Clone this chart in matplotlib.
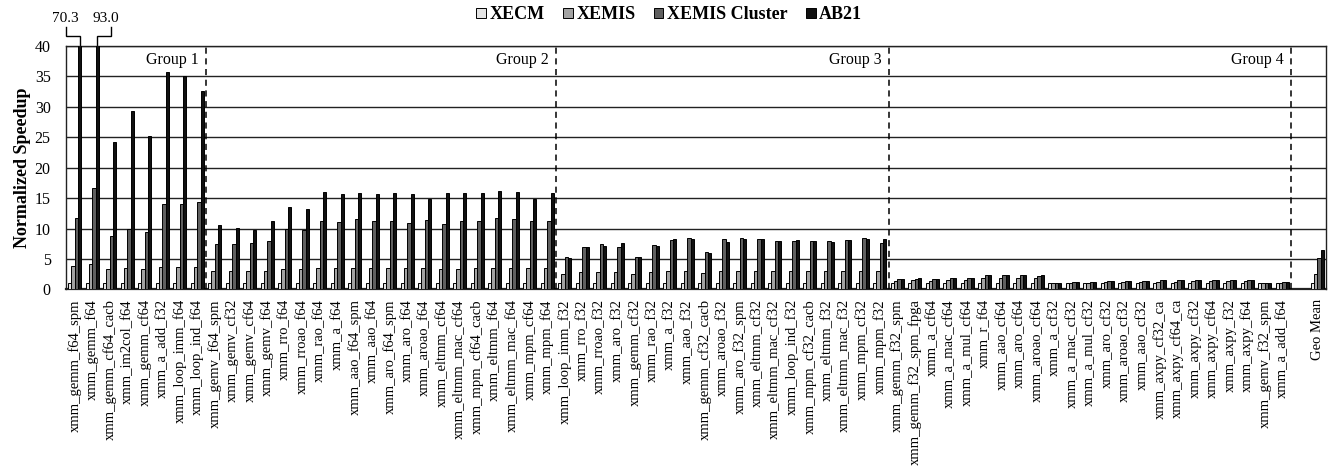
import matplotlib
matplotlib.use("Agg")
import matplotlib.pyplot as plt
import numpy as np

categories = [
    # Group 1
    "xmm_gemm_f64_spm", "xmm_gemm_f64", "xmm_gemm_cf64_cacb", "xmm_im2col_f64",
    "xmm_gemm_cf64", "xmm_a_add_f32", "xmm_loop_imm_f64", "xmm_loop_ind_f64",
    # Group 2
    "xmm_gemv_f64_spm", "xmm_gemv_cf32", "xmm_gemv_cf64", "xmm_gemv_f64", "xmm_rro_f64",
    "xmm_rroao_f64", "xmm_rao_f64", "xmm_a_f64", "xmm_aao_f64_spm", "xmm_aao_f64",
    "xmm_aro_f64_spm", "xmm_aro_f64", "xmm_aroao_f64", "xmm_eltmm_cf64",
    "xmm_eltmm_mac_cf64", "xmm_mpm_cf64_cacb", "xmm_eltmm_f64", "xmm_eltmm_mac_f64",
    "xmm_mpm_cf64", "xmm_mpm_f64",
    # Group 3
    "xmm_loop_imm_f32", "xmm_rro_f32", "xmm_rroao_f32", "xmm_aro_f32", "xmm_gemm_cf32",
    "xmm_rao_f32", "xmm_a_f32", "xmm_aao_f32", "xmm_gemm_cf32_cacb", "xmm_aroao_f32",
    "xmm_aro_f32_spm", "xmm_eltmm_cf32", "xmm_eltmm_mac_cf32", "xmm_loop_ind_f32",
    "xmm_mpm_cf32_cacb", "xmm_eltmm_f32", "xmm_eltmm_mac_f32", "xmm_mpm_cf32", "xmm_mpm_f32",
    # Group 4
    "xmm_gemm_f32_spm", "xmm_gemm_f32_spm_fpga", "xmm_a_cf64", "xmm_a_mac_cf64",
    "xmm_a_mul_cf64", "xmm_r_f64", "xmm_aao_cf64", "xmm_aro_cf64", "xmm_aroao_cf64",
    "xmm_a_cf32", "xmm_a_mac_cf32", "xmm_a_mul_cf32", "xmm_aro_cf32", "xmm_aroao_cf32",
    "xmm_aao_cf32", "xmm_axpy_cf32_ca", "xmm_axpy_cf64_ca", "xmm_axpy_cf32",
    "xmm_axpy_cf64", "xmm_axpy_f32", "xmm_axpy_f64", "xmm_gemv_f32_spm", "xmm_a_add_f64",
    # spacer + summary
    "", "Geo Mean",
]

xecm = [1.0] * 70 + [np.nan, 1.0]

xemis = [
    3.9, 4.1, 3.3, 3.45, 3.3, 3.7, 3.7, 3.7,
    2.95, 2.95, 3.0, 3.1, 3.3, 3.3, 3.45, 3.45, 3.45, 3.45, 3.45, 3.45, 3.45, 3.4,
    3.4, 3.45, 3.45, 3.45, 3.45, 3.45,
    2.5, 2.85, 2.9, 2.9, 2.5, 2.9, 3.0, 3.0, 2.7, 3.0, 3.05, 3.0, 3.0, 3.0, 3.0,
    3.0, 3.0, 3.05, 3.05,
    1.4, 1.5, 1.4, 1.6, 1.6, 1.85, 1.85, 1.85, 1.9, 1.0, 1.1, 1.1, 1.25, 1.25, 1.25,
    1.3, 1.3, 1.35, 1.35, 1.35, 1.35, 1.0, 1.1,
    np.nan, 2.5,
]

xemis_cluster = [
    11.8, 16.7, 8.7, 10.0, 9.5, 14.0, 14.0, 14.4,
    7.5, 7.4, 7.55, 8.0, 10.0, 9.7, 11.3, 11.0, 11.6, 11.2, 11.3, 10.9, 11.4, 10.7,
    11.2, 11.3, 11.8, 11.5, 11.3, 11.3,
    5.25, 7.05, 7.4, 7.05, 5.4, 7.3, 8.15, 8.5, 6.2, 8.3, 8.4, 8.3, 8.0, 7.9, 7.95,
    7.9, 8.05, 8.4, 7.6,
    1.7, 1.8, 1.65, 1.9, 1.9, 2.35, 2.4, 2.35, 2.25, 1.0, 1.15, 1.15, 1.4, 1.35, 1.45,
    1.5, 1.5, 1.5, 1.5, 1.5, 1.5, 1.0, 1.2,
    np.nan, 5.1,
]

ab21 = [
    70.3, 93.0, 24.2, 29.2, 25.2, 35.7, 35.1, 32.6,
    10.6, 10.1, 9.75, 11.2, 13.6, 13.2, 16.0, 15.7, 15.9, 15.6, 15.9, 15.7, 14.9, 15.8,
    15.9, 15.9, 16.1, 16.0, 14.9, 15.9,
    5.1, 6.9, 7.2, 7.7, 5.3, 7.1, 8.2, 8.3, 6.0, 7.8, 8.3, 8.2, 7.95, 8.05, 7.95,
    7.8, 8.15, 8.2, 8.3,
    1.7, 1.85, 1.7, 1.9, 1.9, 2.4, 2.4, 2.3, 2.4, 1.0, 1.15, 1.15, 1.4, 1.35, 1.45,
    1.5, 1.5, 1.5, 1.5, 1.5, 1.5, 1.0, 1.2,
    np.nan, 6.5,
]

series_names = ["XECM", "XEMIS", "XEMIS Cluster", "AB21"]
series_colors = ["#e4e4e4", "#a3a3a3", "#5f5f5f", "#111111"]
group_names = ["Group 1", "Group 2", "Group 3", "Group 4"]
group_sizes = [8, 20, 19, 23]
yticks = [0, 5, 10, 15, 20, 25, 30, 35, 40]

plt.rcParams['font.family'] = ['Liberation Serif', 'DejaVu Serif']

fig = plt.figure(figsize=(13.33, 4.66), dpi=100)
ax = fig.add_axes([0.0495, 0.3788, 0.9453, 0.5232])

x = np.arange(len(categories))
w = 0.19
all_series = [xecm, xemis, xemis_cluster, ab21]
for k, (vals, name, col) in enumerate(zip(all_series, series_names, series_colors)):
    ax.bar(x + (k - 1.5) * w, vals, width=w, color=col, edgecolor="black",
           linewidth=0.7, label=name, zorder=3)

ax.set_xlim(-0.5, len(categories) - 0.5)
ax.set_ylim(0, 40)
ax.set_yticks(yticks)
ax.set_yticklabels([str(t) for t in yticks], fontsize=11.5)
ax.yaxis.grid(True, color="#222222", linewidth=1.0, zorder=0)
ax.set_axisbelow(True)
ax.tick_params(axis="both", length=0)
ax.tick_params(axis="y", pad=11)
ax.tick_params(axis="x", pad=7)
ax.set_xticks(x)
ax.set_xticklabels(categories, rotation=90, fontsize=10.5)
ax.set_ylabel("Normalized Speedup", fontsize=13, fontweight="bold", labelpad=3)
for s in ax.spines.values():
    s.set_color("#222222")
    s.set_linewidth(1.0)
ax.spines["bottom"].set_linewidth(1.6)

# group separators and labels
edge = -0.5
for gname, gsize in zip(group_names, group_sizes):
    edge += gsize
    ax.axvline(edge, color="black", linestyle=(0, (4, 3)), linewidth=1.1, zorder=4)
    ax.text(edge - 0.4, 37.65, gname, ha="right", va="center", fontsize=11.5)

# clipped value annotations
ytop = 41.6
yend = 43.1
lab_y = 44.5
# 70.3
bx0 = 0 + 1.5 * w
ax.plot([-0.5, -0.5, bx0, bx0], [yend, ytop, ytop, 40], color="black", lw=1.0,
        clip_on=False, solid_joinstyle="miter")
ax.text(-0.55, lab_y, "%.1f" % ab21[0], ha="center", va="center", fontsize=11)
# 93.0
bx1 = 1 + 1.5 * w
ax.plot([bx1, bx1, 2.07, 2.07], [40, ytop, ytop, yend], color="black", lw=1.0,
        clip_on=False, solid_joinstyle="miter")
ax.text(1.77, lab_y, "%.1f" % ab21[1], ha="center", va="center", fontsize=11)

leg = fig.legend(loc="center", bbox_to_anchor=(0.502, 0.968), ncol=4, frameon=False,
                 prop={"weight": "bold", "size": 13}, handlelength=0.55, handleheight=0.55,
                 handletextpad=0.2, columnspacing=1.0)

fig.savefig("out.png", dpi=100)
